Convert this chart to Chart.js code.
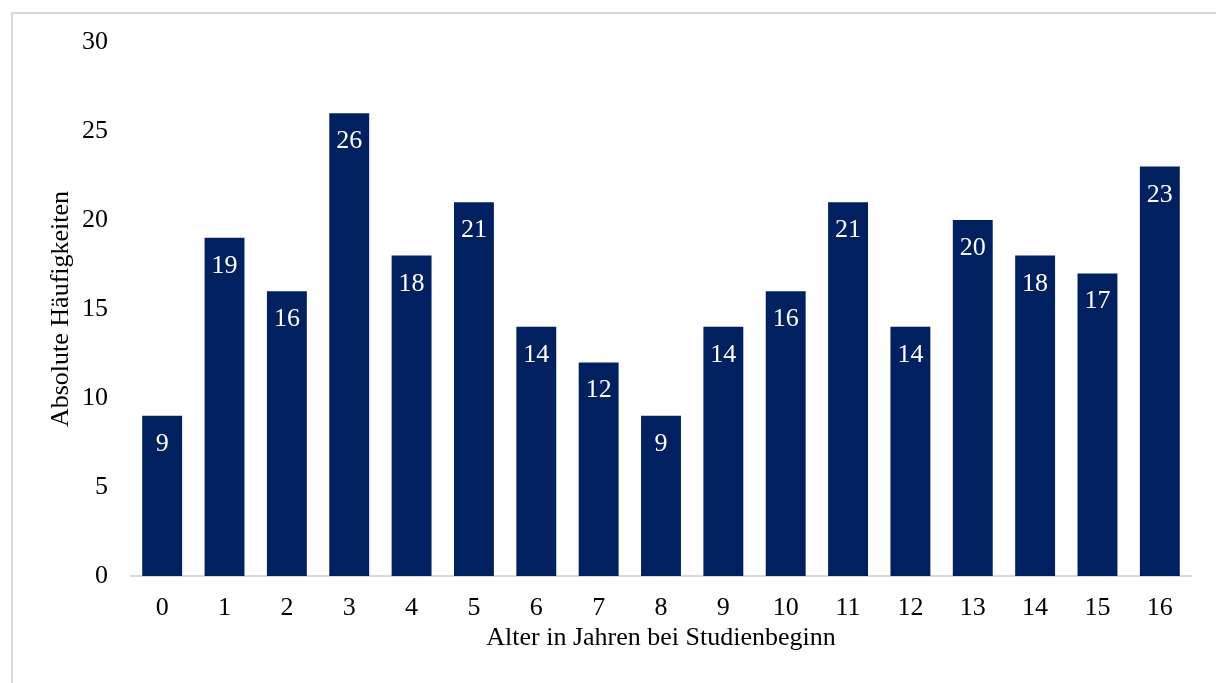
<!DOCTYPE html>
<html>
<head>
<meta charset="utf-8">
<script src="https://cdn.jsdelivr.net/npm/chart.js@4"></script>
<style>
  html, body { margin: 0; padding: 0; background: #fff; }
  #wrap { position: relative; width: 1216px; height: 683px; overflow: hidden; }
  #frame {
    position: absolute; left: 11px; top: 12px; width: 1300px; height: 800px;
    border-left: 2px solid #d9d9d9; border-top: 2px solid #d9d9d9;
  }
  canvas { position: absolute; left: 0; top: 0; }
</style>
</head>
<body>
<div id="wrap">
  <div id="frame"></div>
  <canvas id="chart" width="1216" height="683"></canvas>
</div>
<script>
  // Alter in Jahren bei Studienbeginn -> absolute Häufigkeiten
  const categories = ['0', '1', '2', '3', '4', '5', '6', '7', '8', '9', '10', '11', '12', '13', '14', '15', '16'];
  const counts = [9, 19, 16, 26, 18, 21, 14, 12, 9, 14, 16, 21, 14, 20, 18, 17, 23];
  const yTicks = [0, 5, 10, 15, 20, 25, 30];

  const FONT = '"Liberation Serif", "Times New Roman", serif';
  const BAR = '#002060';

  // white value labels just inside the top of each bar
  const valueLabels = {
    id: 'valueLabels',
    afterDatasetsDraw(chart) {
      const { ctx } = chart;
      const meta = chart.getDatasetMeta(0);
      ctx.save();
      ctx.font = `26px ${FONT}`;
      ctx.fillStyle = '#fff';
      ctx.textAlign = 'center';
      ctx.textBaseline = 'alphabetic';
      meta.data.forEach((bar, i) => {
        ctx.fillText(String(counts[i]), bar.x, bar.y + 35);
      });
      ctx.restore();
    },
  };

  Chart.defaults.font.family = FONT;
  Chart.defaults.font.size = 26;
  Chart.defaults.color = '#000';

  new Chart(document.getElementById('chart'), {
    type: 'bar',
    data: {
      labels: categories,
      datasets: [{
        data: counts,
        backgroundColor: BAR,
        borderWidth: 0,
        categoryPercentage: 1,
        barPercentage: 0.64,
      }],
    },
    options: {
      responsive: false,
      animation: false,
      layout: { padding: { left: 0, right: 25, top: 42, bottom: 0 } },
      plugins: { legend: { display: false }, tooltip: { enabled: false } },
      scales: {
        x: {
          grid: { display: false, drawTicks: false },
          border: { display: true, color: '#d9d9d9', width: 2 },
          ticks: { padding: 17, font: { size: 26 } },
          title: {
            display: true,
            text: 'Alter in Jahren bei Studienbeginn',
            font: { size: 26 },
            padding: { top: 0, bottom: 29 },
          },
          afterFit: (s) => { s.height = 107; },
        },
        y: {
          min: 0,
          max: 30,
          afterBuildTicks: (s) => { s.ticks = yTicks.map((v) => ({ value: v })); },
          grid: { display: false, drawTicks: false },
          border: { display: false },
          ticks: { padding: 23, font: { size: 26 } },
          title: {
            display: true,
            text: 'Absolute Häufigkeiten',
            font: { size: 26 },
            padding: { top: 46, bottom: 0 },
          },
          afterFit: (s) => { s.width = 131; },
        },
      },
    },
    plugins: [valueLabels],
  });
</script>
</body>
</html>
